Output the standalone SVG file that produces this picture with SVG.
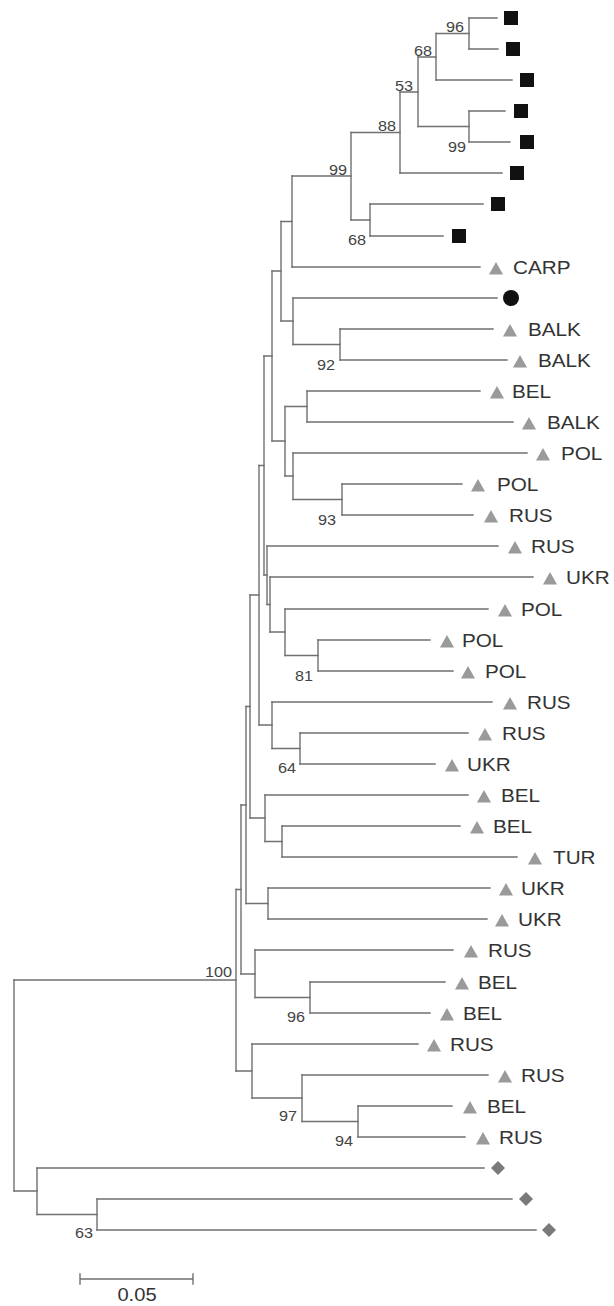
<svg xmlns="http://www.w3.org/2000/svg" xmlns:xlink="http://www.w3.org/1999/xlink" width="614" height="1306" viewBox="0 0 614 1306">
<style>
.br{fill:none;stroke:#707070;stroke-width:1.4;stroke-linecap:square}
.tl{font-family:"Liberation Sans",Arial,sans-serif;font-size:18px;fill:#333}
.bs{font-family:"Liberation Sans",Arial,sans-serif;font-size:14.5px;fill:#444;text-anchor:end}
.sc{font-family:"Liberation Sans",Arial,sans-serif;font-size:18px;fill:#333;text-anchor:middle}
</style>
<defs>
<rect id="sq" x="-7" y="-7" width="14" height="14" fill="#111"/>
<polygon id="tri" points="0,-6 7,6.5 -7,6.5" fill="#9a9a9a"/>
<circle id="circ" r="8" fill="#111"/>
<polygon id="dia" points="0,-7 7,0 0,7 -7,0" fill="#7a7a7a"/>
</defs>
<rect width="614" height="1306" fill="#fff"/>
<g id="connectors">
<path class="br" d="M469 18V49M436 33.5V80M469 111V142M418 57V126.5M400 92V173M370 204V236M351 132.5V220M292 176V267M340 329V360M293 298V344.5M281 221.5V321M307 391V422M342 484V515M293 453V499.5M285 406.5V476M272 271V441M318 640V671M285 609V655.5M270 577V632M267 546V604.5M264 356V575M300 733V764M272 702V748.5M259 465.5V725M282 826V857M265 795V841.5M250 595V818M268 888V919M246 706.5V903.5M310 982V1013M255 950V997.5M241 805V974M358 1106V1137M302 1075V1121.5M252 1044V1098M236 889.5V1071M97 1199V1230M37 1168V1214.5M14 980V1191"/>
<path class="br" d="M436 33.5H469M418 57H436M418 126.5H469M400 92H418M351 132.5H400M351 220H370M292 176H351M281 221.5H292M293 344.5H340M281 321H293M272 271H281M285 406.5H307M293 499.5H342M285 476H293M272 441H285M264 356H272M285 655.5H318M270 632H285M267 604.5H270M264 575H267M259 465.5H264M272 748.5H300M259 725H272M250 595H259M265 841.5H282M250 818H265M246 706.5H250M246 903.5H268M255 997.5H310M241 974H255M241 805H246M236 889.5H241M302 1121.5H358M252 1098H302M236 1071H252M14 980H236M37 1214.5H97M14 1191H37"/>
<path class="br" d="M469 18H497M469 49H498M436 80H512M469 111H505M469 142H510M400 173H502M370 204H483M370 236H443M292 267H480M293 298H497M340 329H493M340 360H507M307 391H480M307 422H513M293 453H527M342 484H462M342 515H473M267 546H498M270 577H533M285 609H488M318 640H430M318 671H453M272 702H492M300 733H468M300 764H435M265 795H468M282 826H460M282 857H517M268 888H490M268 919H487M255 950H453M310 982H445M310 1013H430M252 1044H418M302 1075H488M358 1106H452M358 1137H465M37 1168H484M97 1199H512M97 1230H536"/>
</g>
<g id="support-values">
<text class="bs" transform="translate(464,32) scale(1.12,1)">96</text>
<text class="bs" transform="translate(432,56) scale(1.12,1)">68</text>
<text class="bs" transform="translate(413,91) scale(1.12,1)">53</text>
<text class="bs" transform="translate(396,131) scale(1.12,1)">88</text>
<text class="bs" transform="translate(347,175) scale(1.12,1)">99</text>
<text class="bs" transform="translate(466,152) scale(1.12,1)">99</text>
<text class="bs" transform="translate(366,245) scale(1.12,1)">68</text>
<text class="bs" transform="translate(335,370) scale(1.12,1)">92</text>
<text class="bs" transform="translate(336,525) scale(1.12,1)">93</text>
<text class="bs" transform="translate(313,681) scale(1.12,1)">81</text>
<text class="bs" transform="translate(296,773) scale(1.12,1)">64</text>
<text class="bs" transform="translate(232,977) scale(1.12,1)">100</text>
<text class="bs" transform="translate(305,1022) scale(1.12,1)">96</text>
<text class="bs" transform="translate(297,1121) scale(1.12,1)">97</text>
<text class="bs" transform="translate(353,1146) scale(1.12,1)">94</text>
<text class="bs" transform="translate(93,1238) scale(1.12,1)">63</text>
</g>
<g id="tip-0"><use href="#sq" x="511" y="18"/></g>
<g id="tip-1"><use href="#sq" x="513" y="49"/></g>
<g id="tip-2"><use href="#sq" x="527" y="80"/></g>
<g id="tip-3"><use href="#sq" x="521" y="111"/></g>
<g id="tip-4"><use href="#sq" x="527" y="142"/></g>
<g id="tip-5"><use href="#sq" x="517" y="173"/></g>
<g id="tip-6"><use href="#sq" x="498" y="204"/></g>
<g id="tip-7"><use href="#sq" x="459" y="236"/></g>
<g id="tip-8"><use href="#tri" x="496" y="268"/><text class="tl" transform="translate(513,274) scale(1.15,1)">CARP</text></g>
<g id="tip-9"><use href="#circ" x="511" y="298"/></g>
<g id="tip-10"><use href="#tri" x="510" y="330"/><text class="tl" transform="translate(528,336) scale(1.15,1)">BALK</text></g>
<g id="tip-11"><use href="#tri" x="520" y="361"/><text class="tl" transform="translate(538,367) scale(1.15,1)">BALK</text></g>
<g id="tip-12"><use href="#tri" x="497" y="392"/><text class="tl" transform="translate(512,398) scale(1.15,1)">BEL</text></g>
<g id="tip-13"><use href="#tri" x="529" y="423"/><text class="tl" transform="translate(547,429) scale(1.15,1)">BALK</text></g>
<g id="tip-14"><use href="#tri" x="543" y="454"/><text class="tl" transform="translate(561,460) scale(1.15,1)">POL</text></g>
<g id="tip-15"><use href="#tri" x="478" y="485"/><text class="tl" transform="translate(497,491) scale(1.15,1)">POL</text></g>
<g id="tip-16"><use href="#tri" x="491" y="516"/><text class="tl" transform="translate(509,522) scale(1.15,1)">RUS</text></g>
<g id="tip-17"><use href="#tri" x="515" y="547"/><text class="tl" transform="translate(531,553) scale(1.15,1)">RUS</text></g>
<g id="tip-18"><use href="#tri" x="550" y="578"/><text class="tl" transform="translate(566,584) scale(1.15,1)">UKR</text></g>
<g id="tip-19"><use href="#tri" x="505" y="610"/><text class="tl" transform="translate(521,616) scale(1.15,1)">POL</text></g>
<g id="tip-20"><use href="#tri" x="447" y="641"/><text class="tl" transform="translate(462,647) scale(1.15,1)">POL</text></g>
<g id="tip-21"><use href="#tri" x="468" y="672"/><text class="tl" transform="translate(485,678) scale(1.15,1)">POL</text></g>
<g id="tip-22"><use href="#tri" x="510" y="703"/><text class="tl" transform="translate(527,709) scale(1.15,1)">RUS</text></g>
<g id="tip-23"><use href="#tri" x="485" y="734"/><text class="tl" transform="translate(502,740) scale(1.15,1)">RUS</text></g>
<g id="tip-24"><use href="#tri" x="452" y="765"/><text class="tl" transform="translate(467,771) scale(1.15,1)">UKR</text></g>
<g id="tip-25"><use href="#tri" x="484" y="796"/><text class="tl" transform="translate(501,802) scale(1.15,1)">BEL</text></g>
<g id="tip-26"><use href="#tri" x="477" y="827"/><text class="tl" transform="translate(493,833) scale(1.15,1)">BEL</text></g>
<g id="tip-27"><use href="#tri" x="535" y="858"/><text class="tl" transform="translate(553,864) scale(1.15,1)">TUR</text></g>
<g id="tip-28"><use href="#tri" x="506" y="889"/><text class="tl" transform="translate(521,895) scale(1.15,1)">UKR</text></g>
<g id="tip-29"><use href="#tri" x="502" y="920"/><text class="tl" transform="translate(518,926) scale(1.15,1)">UKR</text></g>
<g id="tip-30"><use href="#tri" x="471" y="951"/><text class="tl" transform="translate(488,957) scale(1.15,1)">RUS</text></g>
<g id="tip-31"><use href="#tri" x="462" y="983"/><text class="tl" transform="translate(478,989) scale(1.15,1)">BEL</text></g>
<g id="tip-32"><use href="#tri" x="447" y="1014"/><text class="tl" transform="translate(463,1020) scale(1.15,1)">BEL</text></g>
<g id="tip-33"><use href="#tri" x="434" y="1045"/><text class="tl" transform="translate(450,1051) scale(1.15,1)">RUS</text></g>
<g id="tip-34"><use href="#tri" x="505" y="1076"/><text class="tl" transform="translate(521,1082) scale(1.15,1)">RUS</text></g>
<g id="tip-35"><use href="#tri" x="470" y="1107"/><text class="tl" transform="translate(487,1113) scale(1.15,1)">BEL</text></g>
<g id="tip-36"><use href="#tri" x="483" y="1138"/><text class="tl" transform="translate(499,1144) scale(1.15,1)">RUS</text></g>
<g id="tip-37"><use href="#dia" x="498" y="1168"/></g>
<g id="tip-38"><use href="#dia" x="526" y="1199"/></g>
<g id="tip-39"><use href="#dia" x="549" y="1230"/></g>
<g id="scale-bar">
<path class="br" d="M80 1279H193M80 1274V1284M193 1274V1284"/>
<text class="sc" transform="translate(137,1301) scale(1.12,1)">0.05</text>
</g>
</svg>
